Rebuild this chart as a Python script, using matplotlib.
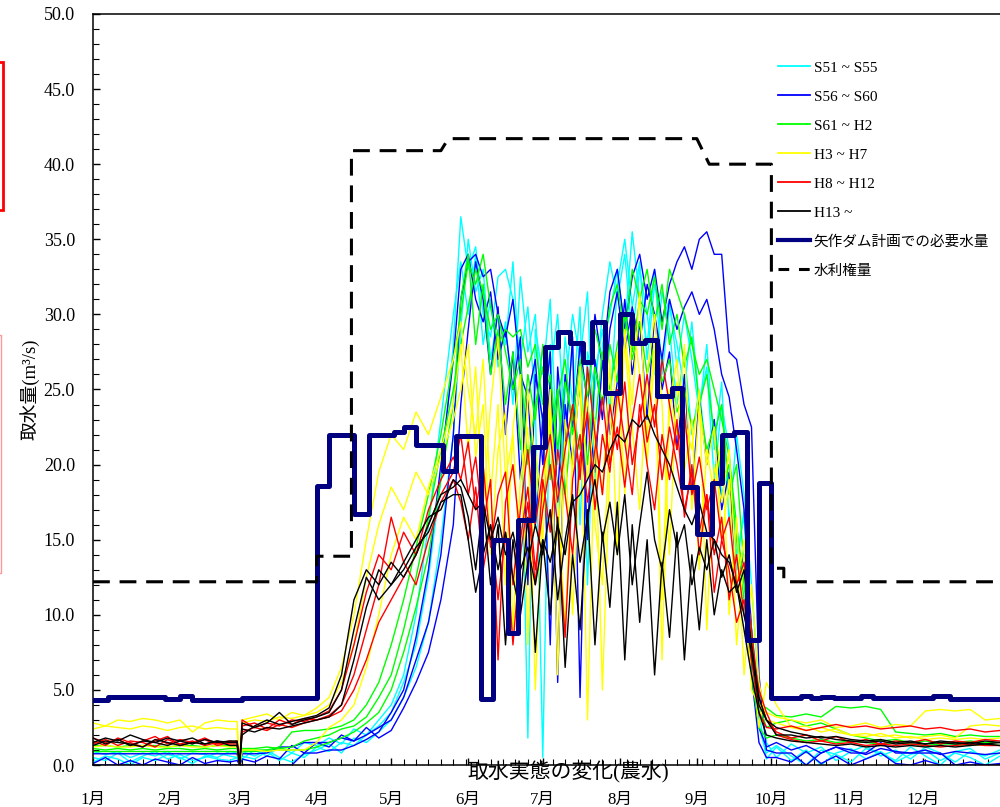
import matplotlib
matplotlib.use('Agg')
import matplotlib.pyplot as plt
from matplotlib.lines import Line2D
from matplotlib.patches import Rectangle
from matplotlib.ticker import MultipleLocator, FormatStrFormatter

plt.rcParams['font.family'] = ['Liberation Serif', 'Noto Sans CJK JP']

# day-of-year grid for the yearly intake series (finer in the irrigation season)
days = ([0, 5, 10, 15, 20, 25, 30, 35, 40, 45, 50, 55, 58, 59, 60]
        + list(range(65, 146, 5))
        + list(range(148, 272, 3))
        + list(range(275, 366, 6)))

month_starts = [0, 31, 59, 90, 120, 151, 181, 212, 243, 273, 304, 334]
month_labels = ['1月', '2月', '3月', '4月', '5月', '6月', '7月', '8月', '9月', '10月', '11月', '12月']

# --- S51 ~ S55 (cyan)
cyan_1 = ([0.5, 0.3, 0.8, 0.2, 0.6, 0.9, 0.4, 0.7, 0.3, 0.5, 0.8, 0.6, 0.5, 0.0, 0.6]
          + [0.4, 0.9, 0.3, 0.8, 0.5, 1.2, 0.9, 1.5, 1.3, 2.0, 2.6, 3.5, 5.5, 8.0, 12.5, 19.0, 28.0]
          + [36.5, 33.0, 34.5, 30.0, 28.5, 32.5, 33.0, 31.0, 27.0, 30.5, 24.0, 0.5, 26.0, 30.0,
             22.0, 28.0, 16.0, 27.5, 25.0, 30.0, 33.5, 31.0, 34.0, 28.5, 33.0, 30.0, 26.0, 31.5,
             29.0, 24.0, 27.5, 22.0, 25.0, 20.5, 23.0, 18.0, 20.0, 14.0, 16.5, 9.0, 3.5, 0.4]
          + [1.2, 0.3, 1.0, 0.0, 0.8, 1.1, 0.4, 0.9, 0.2, 0.7, 1.0, 0.3, 0.8, 0.5, 0.0, 0.6])
cyan_2 = ([0.9, 0.7, 0.9, 0.5, 0.8, 0.6, 0.9, 0.4, 0.8, 0.7, 0.5, 0.9, 0.8, 0.0, 0.9]
          + [0.6, 1.0, 0.5, 0.2, 0.7, 1.0, 1.4, 0.8, 1.8, 1.5, 2.2, 3.0, 4.5, 6.5, 9.5, 15.0, 22.0]
          + [29.0, 35.0, 31.5, 33.0, 27.0, 30.0, 28.0, 33.5, 25.5, 1.8, 29.0, 26.0, 31.0, 20.0,
             28.5, 24.0, 30.5, 12.0, 26.0, 29.0, 23.5, 32.0, 35.0, 30.5, 33.5, 27.0, 32.0, 29.5,
             31.0, 26.5, 30.0, 27.0, 23.5, 28.0, 21.0, 25.5, 16.0, 22.0, 18.0, 12.0, 5.0, 1.5]
          + [0.5, 1.4, 0.8, 1.2, 0.3, 0.9, 1.3, 0.6, 1.0, 0.4, 1.2, 0.8, 0.2, 0.9, 0.6, 1.0])
cyan_3 = ([0.2, 0.6, 0.4, 0.0, 0.5, 0.3, 0.7, 0.5, 0.1, 0.6, 0.4, 0.3, 0.5, 0.0, 0.4]
          + [1.0, 0.6, 1.2, 0.8, 1.5, 1.3, 1.8, 1.4, 2.4, 2.0, 3.0, 4.0, 6.0, 10.0, 16.0, 23.0, 30.0]
          + [33.5, 30.0, 34.0, 28.0, 31.0, 26.5, 29.5, 24.0, 32.5, 27.5, 30.0, 22.0, 28.0, 15.0,
             25.0, 30.0, 27.0, 31.5, 19.0, 28.0, 30.0, 33.0, 29.0, 35.5, 31.0, 28.0, 33.0, 26.0,
             30.5, 28.0, 25.0, 29.5, 24.0, 26.5, 19.0, 24.0, 21.0, 13.0, 17.0, 7.0, 2.5, 0.8]
          + [1.3, 0.6, 0.0, 1.0, 0.7, 0.2, 1.1, 0.8, 0.3, 1.2, 0.6, 0.0, 0.9, 1.1, 0.4, 0.8])

# --- S56 ~ S60 (blue)
blue_1 = ([0.75, 0.75, 0.75, 0.75, 0.75, 0.75, 0.75, 0.75, 0.75, 0.75, 0.75, 0.75, 0.75, 0.0, 0.75]
          + [0.75, 0.8, 1.2, 1.2, 1.5, 1.5, 1.5, 1.8, 1.6, 2.0, 2.5, 3.0, 4.5, 7.0, 9.5, 14.0, 22.0]
          + [31.0, 33.5, 34.0, 32.5, 33.0, 30.0, 28.5, 31.0, 26.0, 24.5, 27.0, 20.0, 25.5, 18.0,
             26.0, 22.5, 28.0, 24.0, 30.0, 26.5, 31.5, 33.0, 29.0, 32.5, 34.0, 31.0, 33.0, 29.5,
             32.0, 33.5, 34.5, 33.0, 35.0, 35.5, 34.0, 34.0, 27.5, 27.0, 24.0, 22.5, 6.0, 1.0]
          + [0.8, 0.8, 0.0, 0.8, 1.2, 0.8, 0.8, 1.5, 0.8, 0.8, 0.8, 0.8, 0.0, 0.0, 0.0, 0.0])
blue_2 = ([0.0, 0.0, 0.0, 0.0, 0.0, 0.0, 0.0, 0.0, 0.0, 0.0, 0.0, 0.0, 0.0, 0.0, 0.0]
          + [0.0, 0.0, 0.0, 0.0, 0.8, 0.8, 1.0, 1.0, 1.3, 1.7, 2.2, 3.5, 5.0, 8.5, 13.0, 20.0, 27.0]
          + [33.0, 34.0, 31.0, 29.5, 31.5, 27.0, 29.0, 25.0, 28.5, 12.0, 26.0, 23.0, 27.5, 5.5,
             24.0, 20.0, 26.0, 15.0, 27.0, 23.0, 29.0, 31.5, 27.5, 30.5, 28.0, 32.0, 30.0, 27.0,
             31.0, 29.0, 30.5, 31.5, 30.0, 31.0, 29.0, 26.0, 24.5, 21.0, 17.0, 9.0, 2.5, 1.2]
          + [1.5, 1.0, 1.3, 0.8, 1.2, 1.0, 0.7, 1.1, 0.9, 0.8, 1.0, 0.7, 0.9, 0.8, 0.7, 0.8])
blue_3 = ([0.1, 0.5, 0.0, 0.3, 0.0, 0.4, 0.2, 0.0, 0.5, 0.1, 0.3, 0.2, 0.3, 0.0, 0.4]
          + [0.2, 0.6, 0.4, 1.3, 0.8, 1.5, 1.2, 2.0, 1.6, 2.5, 1.8, 2.3, 3.8, 5.5, 7.5, 11.0, 16.0]
          + [24.0, 29.0, 33.5, 31.0, 26.0, 30.5, 22.0, 27.5, 19.0, 25.0, 16.0, 23.0, 8.0, 26.5,
             21.0, 28.5, 4.5, 24.0, 19.5, 27.0, 22.0, 25.5, 31.0, 26.0, 29.5, 23.0, 30.0, 25.0,
             27.5, 21.0, 26.0, 18.0, 24.5, 20.0, 23.0, 17.0, 19.5, 12.0, 14.0, 6.0, 1.5, 0.5]
          + [0.5, 0.2, 0.9, 0.1, 0.6, 0.0, 0.4, 0.8, 0.1, 0.0, 0.3, 0.0, 0.0, 0.2, 0.0, 0.1])

# --- S61 ~ H2 (green)
green_1 = ([1.3, 1.3, 1.2, 1.3, 1.3, 1.3, 1.2, 1.3, 1.3, 1.2, 1.3, 1.3, 1.3, 0.0, 1.0]
           + [1.0, 1.0, 1.2, 2.2, 2.3, 2.3, 2.4, 2.6, 3.0, 4.0, 5.5, 8.0, 11.0, 14.5, 18.0, 22.0, 27.0]
           + [30.0, 33.5, 32.0, 34.0, 30.5, 28.0, 29.0, 28.5, 29.0, 26.5, 28.0, 24.0, 26.0, 21.0,
              25.5, 23.0, 27.0, 24.5, 29.0, 27.0, 30.5, 32.0, 28.5, 33.0, 31.0, 30.0, 32.5, 29.0,
              33.0, 31.5, 30.0, 28.0, 26.0, 27.0, 25.0, 23.0, 20.5, 16.0, 12.0, 7.5, 4.0, 3.8]
           + [3.3, 3.2, 3.4, 3.2, 3.9, 3.8, 3.9, 3.7, 2.2, 2.1, 2.0, 2.1, 1.9, 2.0, 1.9, 1.9])
green_2 = ([1.1, 1.0, 1.1, 1.0, 1.1, 1.0, 1.1, 1.1, 1.0, 1.1, 1.0, 1.1, 1.1, 0.0, 1.1]
           + [1.1, 1.2, 1.1, 1.2, 1.6, 1.8, 2.0, 2.4, 2.6, 3.2, 4.5, 6.0, 9.0, 12.5, 16.5, 21.0, 25.0]
           + [28.0, 30.5, 33.0, 31.5, 29.0, 30.0, 27.5, 25.0, 27.0, 20.0, 24.0, 26.5, 22.0, 25.0,
              18.0, 23.5, 21.0, 26.0, 22.5, 27.5, 25.0, 28.0, 30.0, 27.0, 29.5, 26.0, 28.0, 25.5,
              27.0, 23.5, 25.0, 22.5, 24.0, 21.0, 22.5, 19.0, 20.0, 15.0, 11.0, 6.0, 2.5, 1.8]
           + [2.0, 1.8, 1.6, 1.7, 1.5, 1.6, 1.5, 1.4, 1.5, 1.4, 1.3, 1.4, 1.4, 1.3, 1.4, 1.3])
green_3 = ([0.9, 0.9, 0.9, 0.9, 0.9, 0.9, 0.9, 0.9, 0.9, 0.9, 0.9, 0.9, 0.9, 0.0, 0.9]
           + [0.9, 1.0, 1.0, 1.0, 1.0, 1.2, 1.5, 1.8, 2.2, 2.8, 3.5, 5.0, 7.5, 10.5, 14.0, 19.0, 24.0]
           + [31.0, 34.0, 28.0, 32.0, 26.0, 29.0, 24.0, 27.5, 21.0, 26.0, 23.0, 28.0, 19.0, 24.5,
              27.0, 22.0, 25.0, 20.0, 26.5, 24.0, 28.0, 25.5, 30.0, 27.5, 31.0, 33.0, 29.5, 32.0,
              28.0, 30.0, 26.5, 28.5, 24.0, 26.0, 22.0, 24.0, 18.0, 20.0, 13.0, 9.0, 4.0, 2.5]
           + [2.8, 3.0, 2.6, 2.8, 2.4, 2.0, 1.8, 1.6, 1.7, 1.5, 1.6, 1.5, 1.5, 1.6, 1.5, 1.5])

# --- H3 ~ H7 (yellow)
yellow_1 = ([2.8, 2.6, 3.0, 2.9, 3.1, 3.0, 2.8, 3.0, 2.2, 2.8, 3.0, 2.9, 2.9, 0.0, 3.0]
            + [3.2, 3.4, 3.0, 3.5, 3.3, 3.8, 4.5, 6.5, 10.0, 15.0, 19.5, 22.0, 21.0, 23.5, 22.0, 24.5, 27.0]
            + [29.5, 25.0, 22.0, 27.0, 18.0, 24.0, 12.0, 22.5, 26.0, 8.0, 21.0, 17.0, 25.0, 6.0,
               23.0, 19.5, 26.5, 3.0, 22.0, 18.0, 27.0, 14.0, 29.0, 24.0, 31.5, 20.0, 27.5, 11.0,
               25.0, 22.0, 28.0, 17.0, 24.0, 20.0, 22.5, 15.0, 19.0, 8.0, 14.0, 5.0, 4.0, 3.5]
            + [3.2, 3.0, 2.8, 3.0, 2.5, 2.6, 2.8, 2.5, 2.7, 2.6, 3.6, 3.7, 3.6, 3.7, 3.0, 3.1])
yellow_2 = ([2.4, 2.6, 2.5, 2.4, 2.6, 2.5, 2.3, 2.5, 2.6, 2.4, 2.5, 2.4, 2.4, 0.0, 2.8]
            + [3.0, 2.9, 3.2, 3.1, 3.3, 3.5, 4.0, 5.5, 8.0, 12.5, 16.0, 18.5, 17.0, 19.5, 18.0, 20.5, 23.0]
            + [25.0, 28.0, 20.5, 24.0, 14.0, 21.0, 23.5, 9.0, 19.0, 22.5, 5.0, 18.0, 24.0, 15.0,
               21.5, 10.0, 20.0, 24.5, 16.0, 12.0, 22.0, 27.5, 18.0, 30.0, 26.0, 22.0, 28.5, 7.0,
               24.0, 27.0, 19.5, 23.0, 13.0, 21.0, 18.0, 22.0, 10.0, 16.5, 6.0, 12.0, 5.5, 3.0]
            + [2.8, 2.5, 2.6, 2.2, 2.4, 2.0, 2.1, 1.9, 2.0, 1.8, 1.9, 2.0, 1.8, 2.6, 2.7, 2.6])
yellow_3 = ([1.2, 1.3, 1.2, 1.2, 1.3, 1.2, 1.2, 1.3, 1.2, 1.2, 1.3, 1.2, 1.2, 0.0, 1.0]
            + [1.0, 0.9, 1.0, 1.0, 1.0, 1.5, 2.5, 3.0, 4.0, 6.5, 10.0, 14.0, 16.5, 15.0, 18.5, 21.0, 24.0]
            + [28.0, 21.0, 26.5, 17.0, 24.0, 28.5, 19.0, 22.0, 13.0, 25.0, 20.0, 15.0, 23.0, 18.0,
               9.0, 21.0, 25.5, 19.0, 23.0, 5.0, 20.0, 24.0, 28.0, 22.5, 17.0, 26.0, 30.0, 24.0,
               14.0, 25.5, 23.0, 21.0, 25.0, 9.0, 20.0, 17.5, 21.0, 12.0, 15.0, 8.0, 2.5, 5.5]
            + [4.0, 2.5, 2.3, 2.5, 2.2, 2.0, 1.9, 2.1, 1.8, 1.9, 1.7, 1.8, 1.7, 1.8, 1.7, 1.8])

# --- H8 ~ H12 (red)
red_1 = ([1.8, 1.5, 1.7, 1.3, 1.6, 1.9, 1.4, 1.7, 1.5, 1.8, 1.4, 1.6, 1.5, 0.0, 3.0]
         + [2.5, 2.8, 2.6, 3.0, 2.9, 3.2, 3.6, 5.0, 8.0, 11.5, 14.0, 13.0, 15.5, 14.0, 17.0, 19.0, 20.5]
         + [19.0, 21.5, 17.0, 20.0, 14.5, 18.0, 19.5, 12.0, 17.0, 21.0, 16.0, 19.5, 22.0, 17.5,
            21.0, 24.0, 19.0, 26.5, 22.0, 18.0, 24.0, 21.0, 25.5, 20.0, 23.0, 26.0, 22.5, 27.0,
            24.0, 21.0, 23.5, 18.0, 20.5, 17.0, 19.0, 15.0, 16.5, 12.0, 13.5, 9.0, 4.5, 3.0]
         + [2.2, 1.8, 2.0, 1.6, 1.9, 1.5, 1.7, 1.4, 1.6, 1.5, 1.7, 1.4, 1.6, 1.5, 1.7, 1.6])
red_2 = ([1.4, 1.7, 1.3, 1.6, 1.5, 1.2, 1.7, 1.4, 1.6, 1.3, 1.5, 1.4, 1.4, 0.0, 2.6]
         + [2.8, 2.4, 3.0, 2.7, 3.1, 3.0, 3.3, 4.0, 6.0, 9.0, 12.0, 16.5, 13.5, 12.0, 15.0, 17.5, 19.0]
         + [17.5, 15.0, 18.5, 13.0, 16.0, 11.0, 15.5, 8.0, 14.0, 17.5, 12.0, 19.0, 15.5, 21.0,
            18.0, 14.0, 20.5, 23.5, 17.0, 22.0, 19.5, 25.0, 21.5, 18.0, 24.0, 20.0, 17.0, 22.0,
            19.0, 23.0, 16.5, 20.0, 14.0, 18.0, 11.5, 15.0, 13.0, 9.5, 11.0, 7.0, 3.5, 2.5]
         + [2.4, 2.6, 2.3, 2.5, 2.7, 2.5, 2.6, 2.4, 2.5, 2.6, 2.4, 2.5, 2.3, 2.4, 2.2, 2.3])
red_3 = ([1.6, 1.3, 1.8, 1.5, 1.2, 1.6, 1.9, 1.3, 1.5, 1.7, 1.3, 1.5, 1.6, 0.0, 2.2]
         + [2.5, 2.3, 2.7, 2.5, 2.8, 3.0, 3.2, 3.6, 5.0, 7.0, 9.5, 11.0, 12.5, 14.0, 16.0, 18.0, 19.5]
         + [22.0, 18.0, 20.5, 16.0, 19.0, 7.0, 17.5, 20.0, 15.0, 18.5, 13.0, 17.0, 20.0, 16.0,
            8.5, 19.0, 22.0, 17.5, 21.0, 24.5, 20.0, 22.5, 18.5, 23.0, 26.0, 21.5, 24.0, 19.0,
            22.5, 20.0, 17.0, 19.5, 15.5, 18.0, 14.0, 16.5, 11.0, 14.0, 10.0, 8.0, 5.0, 3.5]
         + [2.0, 1.7, 1.5, 1.6, 1.4, 1.5, 1.3, 1.4, 1.3, 1.4, 1.3, 1.2, 1.3, 1.4, 1.3, 1.3])

# --- H13 ~ (black)
black_1 = ([1.5, 1.8, 1.6, 2.0, 1.7, 1.5, 1.8, 1.6, 1.4, 1.7, 1.5, 1.6, 1.6, 0.0, 2.0]
           + [2.6, 3.0, 2.7, 2.9, 3.1, 3.3, 3.8, 6.0, 11.0, 13.0, 12.0, 13.5, 12.5, 14.0, 16.0, 18.0, 18.5]
           + [19.0, 18.0, 17.0, 17.5, 15.0, 16.5, 14.0, 15.5, 13.0, 14.5, 12.0, 15.0, 13.5, 16.0,
              14.0, 17.5, 18.0, 19.0, 20.0, 19.5, 21.0, 22.0, 21.5, 23.0, 22.5, 23.3, 22.0, 21.0,
              20.0, 18.5, 17.0, 16.0, 17.5, 15.5, 15.0, 14.0, 13.5, 12.0, 10.0, 7.5, 4.0, 3.0]
           + [2.5, 2.2, 2.0, 1.8, 1.9, 1.7, 1.6, 1.7, 1.5, 1.6, 1.4, 1.5, 1.4, 1.5, 1.4, 1.5])
black_2 = ([1.8, 1.4, 1.7, 1.3, 1.6, 1.5, 1.3, 1.6, 1.8, 1.4, 1.6, 1.5, 1.5, 0.0, 2.8]
           + [2.5, 2.8, 3.5, 2.7, 3.0, 3.2, 3.5, 5.0, 9.0, 12.5, 11.0, 12.0, 13.5, 15.0, 16.5, 17.0, 19.0]
           + [18.5, 16.5, 13.0, 17.5, 12.0, 16.0, 8.0, 15.0, 11.0, 16.5, 7.5, 15.0, 10.0, 16.5,
              6.5, 14.0, 9.0, 17.0, 8.0, 15.5, 10.5, 17.5, 7.0, 16.0, 9.5, 15.0, 6.0, 13.5,
              8.5, 15.5, 7.0, 14.0, 9.0, 15.0, 10.0, 13.0, 11.5, 12.0, 9.0, 6.0, 3.5, 2.0]
           + [1.8, 1.6, 1.5, 1.4, 1.3, 1.4, 1.2, 1.3, 1.2, 1.3, 1.2, 1.3, 1.2, 1.3, 1.4, 1.3])
black_3 = ([1.3, 1.6, 1.5, 1.4, 1.2, 1.7, 1.5, 1.3, 1.5, 1.4, 1.6, 1.3, 1.3, 0.0, 2.4]
           + [2.2, 2.5, 2.4, 2.6, 2.8, 3.0, 3.2, 4.0, 7.0, 10.5, 13.0, 12.0, 13.0, 14.5, 15.5, 17.5, 18.0]
           + [18.0, 15.0, 11.5, 14.0, 16.0, 13.0, 15.5, 12.5, 10.0, 13.5, 16.0, 14.0, 17.0, 11.0,
              15.0, 18.0, 13.5, 16.5, 19.0, 15.0, 17.5, 14.0, 18.0, 12.0, 16.0, 19.5, 15.0, 13.0,
              17.0, 14.5, 16.0, 12.0, 14.5, 13.0, 15.0, 12.5, 14.0, 11.5, 13.0, 8.0, 4.5, 3.0]
           + [2.0, 2.0, 1.8, 1.9, 1.7, 1.6, 1.5, 1.6, 1.4, 1.5, 1.4, 1.6, 1.5, 1.4, 1.6, 1.5])

# 矢作ダム計画での必要水量 (step: value holds from each day until the next)
plan_days = [0, 6, 29, 35, 40, 60, 90, 95, 105, 111, 121, 125, 130, 141, 146, 156,
             161, 167, 171, 177, 182, 187, 192, 197, 201, 206, 212, 217, 222, 227, 233, 237,
             243, 249, 253, 258, 263, 268, 273, 285, 289, 293, 298, 309, 314, 338, 345, 365]
plan_vals = [4.35, 4.5, 4.4, 4.6, 4.35, 4.45, 18.6, 22.0, 16.7, 22.0, 22.2, 22.5, 21.3, 19.6, 21.9, 4.4,
             15.0, 8.8, 16.3, 21.2, 27.8, 28.8, 28.1, 26.8, 29.5, 24.8, 30.0, 28.1, 28.3, 24.6, 25.1, 18.5,
             15.4, 18.8, 22.0, 22.2, 8.3, 18.8, 4.45, 4.6, 4.45, 4.55, 4.45, 4.6, 4.45, 4.6, 4.4, 4.4]

# 水利権量
right_days = [0, 90, 90, 104, 104, 140, 143, 243, 248, 273, 273, 278, 278, 365]
right_vals = [12.2, 12.2, 13.9, 13.9, 40.9, 40.9, 41.7, 41.7, 40.0, 40.0, 13.1, 13.1, 12.2, 12.2]

groups = [
    ('#00ffff', 'S51 ~ S55', [cyan_1, cyan_2, cyan_3]),
    ('#0000ff', 'S56 ~ S60', [blue_1, blue_2, blue_3]),
    ('#00ff00', 'S61 ~ H2', [green_1, green_2, green_3]),
    ('#ffff00', 'H3 ~ H7', [yellow_1, yellow_2, yellow_3]),
    ('#ff0000', 'H8 ~ H12', [red_1, red_2, red_3]),
    ('#000000', 'H13 ~', [black_1, black_2, black_3]),
]

fig = plt.figure(figsize=(10, 8.07), dpi=100)
ax = fig.add_axes([0.093, 0.052, 0.907, 0.9307])

handles = []
for color, label, series in groups:
    for s in series:
        ax.plot(days, s, color=color, lw=1.0, zorder=2)
    handles.append(Line2D([], [], color=color, lw=1.3, label=label))

ax.step(plan_days, plan_vals, where='post', color='#000080', lw=3.6, zorder=5)
ax.plot(right_days, right_vals, color='black', lw=2.2, dashes=(5.5, 3.2), zorder=6)
handles.append(Line2D([], [], color='#000080', lw=3.0, label='矢作ダム計画での必要水量'))
handles.append(Line2D([], [], color='black', lw=2.2, dashes=(3.5, 3.2), label='水利権量'))

ax.set_xlim(0, 365)
ax.set_ylim(0, 50)
ax.set_xticks(month_starts)
ax.set_xticklabels(month_labels)
ax.xaxis.set_minor_locator(MultipleLocator(5))
ax.yaxis.set_major_locator(MultipleLocator(5))
ax.yaxis.set_minor_locator(MultipleLocator(1))
ax.yaxis.set_major_formatter(FormatStrFormatter('%.1f'))
ax.tick_params(which='both', direction='in', top=False, right=False)
ax.tick_params(which='major', length=5, width=1)
ax.tick_params(which='minor', length=4, width=0.8)
ax.tick_params(axis='y', labelsize=13, pad=13)
ax.tick_params(axis='x', labelsize=12, pad=19)
ax.spines['right'].set_visible(False)
for sp in ['left', 'bottom', 'top']:
    ax.spines[sp].set_linewidth(1.1)

leg = fig.legend(handles=handles, loc='upper left', bbox_to_anchor=(0.778, 1 - 61 / 807),
                 frameon=False, fontsize=11, handlelength=2.1, handletextpad=0.25,
                 labelspacing=1.0, borderpad=0, borderaxespad=0)
for t in leg.get_texts()[6:]:
    t.set_fontsize(10.5)

fig.text(0.030, 1 - 389 / 807, '取水量(m³/s)', rotation=90, ha='center', va='center', fontsize=13.5)
fig.text(0.568, 1 - 772 / 807, '取水実態の変化(農水)', ha='center', va='center', fontsize=15)

# partly visible annotation frames at the left edge
fig.add_artist(Rectangle((-0.05, 1 - 210 / 807), 0.053, 148 / 807, transform=fig.transFigure,
                         fill=False, edgecolor='red', lw=2))
fig.add_artist(Rectangle((-0.05, 1 - 573 / 807), 0.051, 238 / 807, transform=fig.transFigure,
                         fill=False, edgecolor='#ff9999', lw=1))

fig.savefig('out.png', dpi=100)
